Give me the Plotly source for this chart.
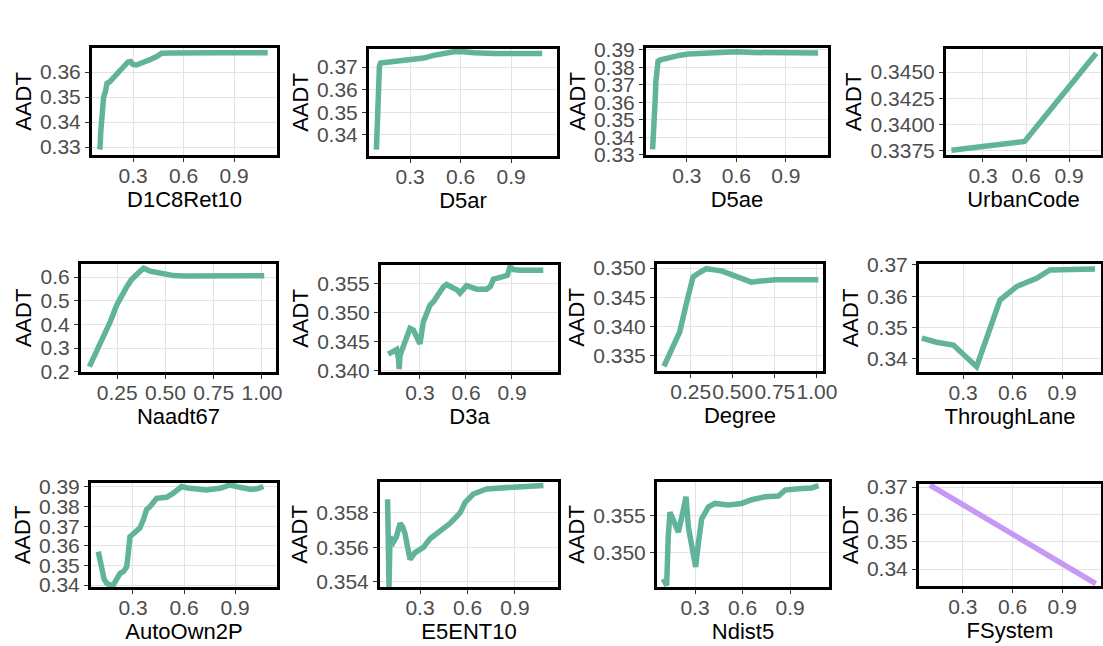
import plotly.graph_objects as go

W, H = 1103, 646
TEAL = "#62b39b"
PURPLE = "#c998f7"
FONT = "Liberation Sans, Arial, sans-serif"

names = ["D1C8Ret10", "D5ar", "D5ae", "UrbanCode",
         "Naadt67", "D3a", "Degree", "ThroughLane",
         "AutoOwn2P", "E5ENT10", "Ndist5", "FSystem"]
y_title = "AADT"

# ---- data ----
x1 = [0.100, 0.104, 0.108, 0.112, 0.118, 0.125, 0.135, 0.145, 0.160, 0.175, 0.190, 0.210, 0.230, 0.250,
      0.270, 0.285, 0.300, 0.320, 0.350, 0.380, 0.410, 0.440, 0.470, 0.520, 0.600, 0.800, 1.100]
y1 = [0.3290, 0.3300, 0.3360, 0.3420, 0.3490, 0.3500, 0.3520, 0.3555, 0.3560, 0.3570, 0.3580, 0.3595, 0.3610, 0.3625,
      0.3640, 0.3642, 0.3630, 0.3628, 0.3635, 0.3645, 0.3652, 0.3662, 0.3675, 0.3676, 0.3677, 0.3677, 0.3677]

x2 = [0.100, 0.102, 0.104, 0.106, 0.110, 0.114, 0.118, 0.125, 0.150, 0.200, 0.250, 0.300, 0.340, 0.380,
      0.440, 0.500, 0.560, 0.620, 0.680, 0.800, 1.085]
y2 = [0.3335, 0.3380, 0.3450, 0.3510, 0.3560, 0.3640, 0.3705, 0.3718, 0.3720, 0.3720, 0.3725, 0.3730, 0.3732, 0.3740,
      0.3752, 0.3762, 0.3768, 0.3768, 0.3763, 0.3760, 0.3760]

x3 = [0.092, 0.096, 0.100, 0.104, 0.108, 0.112, 0.118, 0.125, 0.140, 0.170, 0.210, 0.260, 0.310, 0.360,
      0.410, 0.460, 0.510, 0.560, 0.600, 0.700, 0.850, 1.095]
y3 = [0.3330, 0.3380, 0.3450, 0.3550, 0.3620, 0.3720, 0.3800, 0.3835, 0.3843, 0.3850, 0.3862, 0.3870, 0.3877, 0.3880,
      0.3884, 0.3887, 0.3890, 0.3893, 0.3890, 0.3885, 0.3883, 0.3882]

x4 = [0.08, 0.59, 1.09]
y4 = [0.33755, 0.33840, 0.34680]

x5 = [0.106, 0.130, 0.161, 0.190, 0.214, 0.248, 0.275, 0.300, 0.325, 0.344, 0.370, 0.387, 0.400, 0.420,
      0.450, 0.474, 0.500, 0.543, 0.600, 0.800, 1.012]
y5 = [0.222, 0.262, 0.313, 0.365, 0.411, 0.482, 0.525, 0.559, 0.590, 0.608, 0.625, 0.637, 0.632, 0.625,
      0.620, 0.616, 0.610, 0.606, 0.604, 0.604, 0.605]

x6 = [0.093, 0.126, 0.148, 0.160, 0.165, 0.170, 0.190, 0.202, 0.220, 0.235, 0.257, 0.280, 0.300, 0.322,
      0.345, 0.365, 0.390, 0.409, 0.430, 0.452, 0.474, 0.495, 0.517, 0.540, 0.561, 0.604, 0.640, 0.670,
      0.735, 0.760, 0.778, 0.843, 0.870, 0.887, 0.910, 0.952, 1.104]
y6 = [0.3428, 0.3432, 0.3436, 0.3420, 0.3402, 0.3426, 0.3440, 0.3447, 0.3462, 0.3473, 0.3470, 0.3458, 0.3446, 0.3484,
      0.3500, 0.3513, 0.3520, 0.3528, 0.3535, 0.3545, 0.3549, 0.3545, 0.3543, 0.3540, 0.3534, 0.3547, 0.3544, 0.3541,
      0.3541, 0.3546, 0.3558, 0.3563, 0.3565, 0.3580, 0.3575, 0.3574, 0.3574]

x7 = [0.091, 0.140, 0.185, 0.225, 0.264, 0.300, 0.343, 0.390, 0.433, 0.480, 0.532, 0.580, 0.611, 0.640,
      0.671, 0.710, 0.750, 0.850, 1.008]
y7 = [0.3332, 0.3362, 0.3391, 0.3440, 0.3485, 0.3492, 0.3499, 0.3497, 0.3495, 0.3490, 0.3485, 0.3478, 0.3476, 0.3477,
      0.3478, 0.3479, 0.3480, 0.3480, 0.3480]

x8 = [0.050, 0.139, 0.241, 0.382, 0.524, 0.625, 0.746, 0.827, 1.100]
y8 = [0.3466, 0.3453, 0.3444, 0.3375, 0.3588, 0.3631, 0.3657, 0.3684, 0.3687]

x9 = [0.096, 0.105, 0.116, 0.130, 0.145, 0.165, 0.184, 0.205, 0.224, 0.245, 0.263, 0.272, 0.282, 0.300,
      0.322, 0.340, 0.361, 0.380, 0.400, 0.420, 0.439, 0.470, 0.498, 0.537, 0.586, 0.620, 0.655, 0.700,
      0.733, 0.812, 0.871, 0.929, 0.988, 1.030, 1.067]
y9 = [0.3570, 0.3530, 0.3477, 0.3430, 0.3409, 0.3400, 0.3400, 0.3430, 0.3460, 0.3470, 0.3493, 0.3560, 0.3646, 0.3660,
      0.3672, 0.3690, 0.3732, 0.3785, 0.3800, 0.3825, 0.3842, 0.3845, 0.3847, 0.3868, 0.3902, 0.3895, 0.3893, 0.3888,
      0.3885, 0.3893, 0.3910, 0.3898, 0.3888, 0.3890, 0.3902]

x10 = [0.095, 0.098, 0.101, 0.104, 0.110, 0.131, 0.150, 0.174, 0.190, 0.205, 0.222, 0.237, 0.268, 0.300,
       0.321, 0.363, 0.426, 0.490, 0.553, 0.584, 0.637, 0.721, 0.890, 1.080]
y10 = [0.3588, 0.3570, 0.3550, 0.3537, 0.3566, 0.3563, 0.3566, 0.3574, 0.3572, 0.3568, 0.3560, 0.3553, 0.3557, 0.3559,
       0.3560, 0.3565, 0.3569, 0.3574, 0.3580, 0.3586, 0.3591, 0.3594, 0.3595, 0.3596]

x11 = [0.100, 0.121, 0.131, 0.142, 0.170, 0.195, 0.226, 0.243, 0.258, 0.289, 0.304, 0.321, 0.342, 0.384,
       0.426, 0.510, 0.595, 0.658, 0.742, 0.826, 0.869, 0.953, 1.037, 1.080]
y11 = [0.3464, 0.3455, 0.3521, 0.3554, 0.3540, 0.3527, 0.3557, 0.3575, 0.3534, 0.3498, 0.3480, 0.3512, 0.3545, 0.3561,
       0.3566, 0.3564, 0.3566, 0.3571, 0.3575, 0.3576, 0.3584, 0.3586, 0.3587, 0.3590]

x12 = [0.102, 1.102]
y12 = [0.3707, 0.3347]

# ---- ticks ----
xt_a = [0.3, 0.6, 0.9]
xt_b = [0.25, 0.50, 0.75, 1.00]
yt1 = [0.33, 0.34, 0.35, 0.36]
yt2 = [0.34, 0.35, 0.36, 0.37]
yt3 = [0.33, 0.34, 0.35, 0.36, 0.37, 0.38, 0.39]
yt4 = [0.3375, 0.3400, 0.3425, 0.3450]
yt5 = [0.2, 0.3, 0.4, 0.5, 0.6]
yt6 = [0.340, 0.345, 0.350, 0.355]
yt7 = [0.335, 0.340, 0.345, 0.350]
yt8 = [0.34, 0.35, 0.36, 0.37]
yt9 = [0.34, 0.35, 0.36, 0.37, 0.38, 0.39]
yt10 = [0.354, 0.356, 0.358]
yt11 = [0.350, 0.355]
yt12 = [0.34, 0.35, 0.36, 0.37]

xs = [x1, x2, x3, x4, x5, x6, x7, x8, x9, x10, x11, x12]
ys = [y1, y2, y3, y4, y5, y6, y7, y8, y9, y10, y11, y12]
xts = [xt_a, xt_a, xt_a, xt_a, xt_b, xt_a, xt_b, xt_a, xt_a, xt_a, xt_a, xt_a]
xfs = [".1f", ".1f", ".1f", ".1f", ".2f", ".1f", ".2f", ".1f", ".1f", ".1f", ".1f", ".1f"]
yts = [yt1, yt2, yt3, yt4, yt5, yt6, yt7, yt8, yt9, yt10, yt11, yt12]
yfs = [".2f", ".2f", ".2f", ".4f", ".1f", ".3f", ".3f", ".2f", ".2f", ".3f", ".3f", ".2f"]
colors = [TEAL] * 11 + [PURPLE]

# ---- layout geometry (pixel boxes: left, right, top, bottom) ----
boxes = [(92, 277, 48, 155), (369, 557, 49, 156), (646, 828, 48, 155), (946, 1101, 49, 155),
         (81, 276, 264, 372), (381, 558, 265, 372), (657, 823, 264, 371), (919, 1101, 264, 372),
         (91, 277, 483, 587), (380, 558, 482, 587), (657, 829, 482, 587), (919, 1101, 484, 586)]
xranges = [(0.056, 1.155), (0.056, 1.173), (0.052, 1.155), (0.042, 1.123),
           (0.0625, 1.073), (0.046, 1.20), (0.05, 1.036), (0.033, 1.136),
           (0.053, 1.147), (0.047, 1.172), (0.06, 1.146), (0.036, 1.134)]
yranges = [(0.3268, 0.3696), (0.3307, 0.378), (0.3298, 0.3911), (0.3371, 0.3472),
           (0.199, 0.655), (0.3397, 0.3583), (0.3324, 0.3507), (0.3358, 0.3703),
           (0.339, 0.392), (0.3537, 0.3598), (0.3453, 0.3595), (0.3338, 0.3711)]

fig = go.Figure()
common = dict(showgrid=True, gridcolor="#e3e3e3", gridwidth=1, zeroline=False,
              showline=True, linecolor="black", linewidth=3, mirror=True,
              ticks="outside", ticklen=4, tickwidth=1, tickcolor="#333333",
              tickfont=dict(family=FONT, size=21, color="#4d4d4d"), tickangle=0,
              fixedrange=True, automargin=False)
for i in range(12):
    n = i + 1
    xa = "x" if n == 1 else f"x{n}"
    ya = "y" if n == 1 else f"y{n}"
    fig.add_trace(go.Scatter(x=xs[i], y=ys[i], mode="lines",
                             line=dict(color=colors[i], width=5.5),
                             xaxis=xa, yaxis=ya, showlegend=False, hoverinfo="skip"))
    l, r, t, b = boxes[i]
    fig.layout["xaxis" if n == 1 else f"xaxis{n}"] = dict(
        domain=[l / W, r / W], range=list(xranges[i]), anchor=ya,
        tickmode="array", tickvals=xts[i], tickformat=xfs[i], ticklabelstandoff=-4,
        title=dict(text=names[i], font=dict(family=FONT, size=22, color="black"), standoff=4),
        **common)
    fig.layout["yaxis" if n == 1 else f"yaxis{n}"] = dict(
        domain=[1 - b / H, 1 - t / H], range=list(yranges[i]), anchor=xa,
        tickmode="array", tickvals=yts[i], tickformat=yfs[i],
        title=dict(text=y_title, font=dict(family=FONT, size=22, color="black"), standoff=3),
        **common)

fig.update_layout(width=W, height=H, margin=dict(l=0, r=0, t=0, b=0, autoexpand=False),
                  paper_bgcolor="white", plot_bgcolor="white", showlegend=False)
fig.write_html("out.html", config={"displayModeBar": False},
               post_script="document.body.style.margin='0';")
